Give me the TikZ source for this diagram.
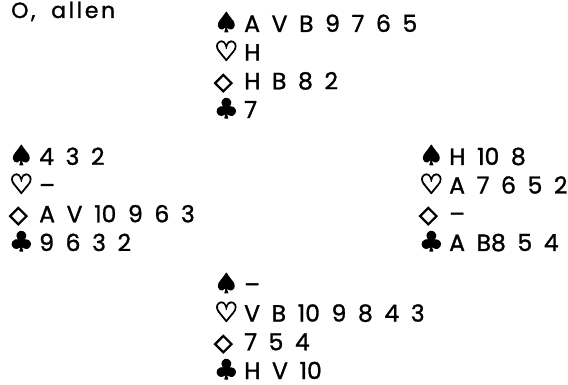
\documentclass[tikz,border=0pt]{standalone}
\usepackage{fontspec}
\setmainfont{Poppins}[WordSpace=1.85, FakeBold=1.2]
\newfontfamily\suitfont{DejaVu Sans}[Scale=1.15, FakeBold=4]
\newcommand{\kleur}[1]{\makebox[30pt][l]{\suitfont #1}}
\newcommand{\ruit}{\scalebox{0.88}{◇}}

\begin{document}
\begin{tikzpicture}[
  % base of a hand is the baseline of its last line
  hand/.style={anchor=base west, inner sep=0pt, align=left,
               font=\fontsize{23.5}{28.7}\selectfont},
  kop/.style={anchor=base west, inner sep=0pt,
              font=\fontsize{22}{26}\selectfont\addfontfeature{LetterSpace=12}}
]
\useasboundingbox (0,0) rectangle (568pt,-385pt);

\node[kop] (titel) at (11pt,-18pt) {O, allen};

\node[hand] (noord) at (214pt,-118pt)
  {\kleur{♠}A V B 9 7 6 5\\ \kleur{♡}H\\ \kleur{\ruit}H B 8 2\\ \kleur{♣}7};
\node[hand] (west) at (9pt,-251pt)
  {\kleur{♠}4 3 2\\ \kleur{♡}–\\ \kleur{\ruit}A V 10 9 6 3\\ \kleur{♣}9 6 3 2};
\node[hand] (oost) at (419pt,-251pt)
  {\kleur{♠}H 10 8\\ \kleur{♡}A 7 6 5 2\\ \kleur{\ruit}–\\ \kleur{♣}A B8 5 4};
\node[hand] (zuid) at (214pt,-379pt)
  {\kleur{♠}–\\ \kleur{♡}V B 10 9 8 4 3\\ \kleur{\ruit}7 5 4\\ \kleur{♣}H V 10};

\end{tikzpicture}
\end{document}
